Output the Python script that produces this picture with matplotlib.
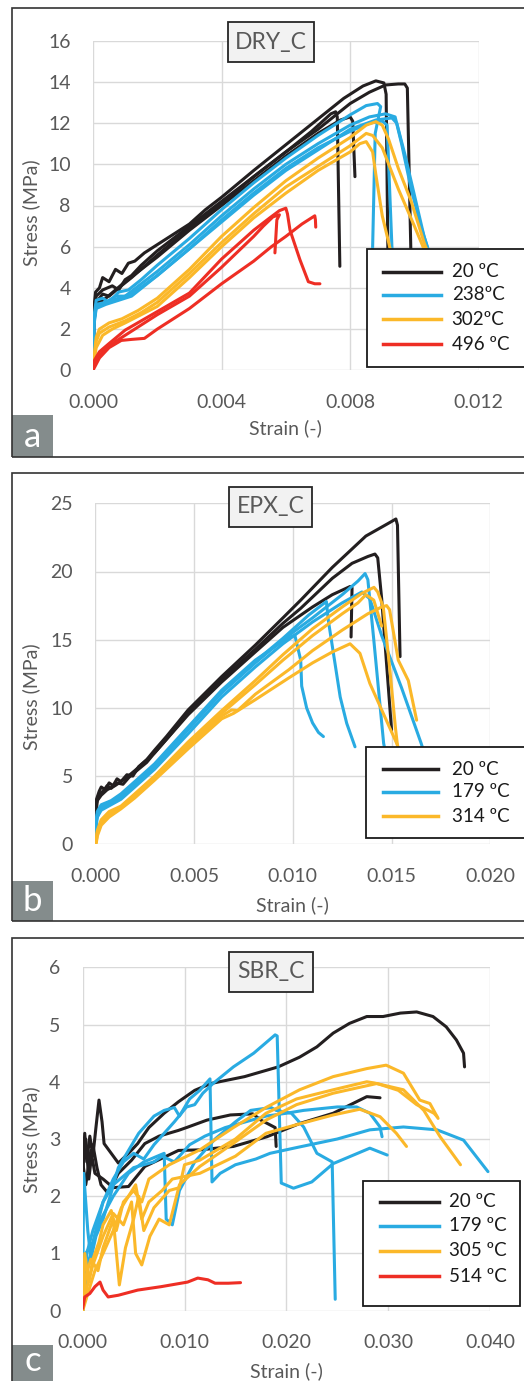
import matplotlib
matplotlib.use("Agg")
import matplotlib.pyplot as plt
from matplotlib.patches import Rectangle
from matplotlib.lines import Line2D

plt.rcParams['font.family'] = ['Lato', 'DejaVu Sans']

# ---------------- colours ----------------
C_BLACK = '#231f20'
C_BLUE = '#29abe2'
C_YELLOW = '#fbb829'
C_RED = '#ee2e24'
GRAY_TXT = '#595959'

# ================= (a) DRY_C =================
dry_20C = [
    ([0, 0.00002, 0.00008, 0.0002, 0.0003, 0.0005, 0.0007, 0.0009, 0.0011, 0.0013, 0.0016, 0.002,
      0.0025, 0.003, 0.0035, 0.004, 0.005, 0.006, 0.007, 0.0078, 0.0084, 0.0088, 0.00905, 0.00912, 0.00918],
     [0, 2.9, 3.8, 4.0, 4.5, 4.3, 4.9, 4.7, 5.2, 5.3, 5.7, 6.1,
      6.6, 7.1, 7.8, 8.4, 9.7, 10.95, 12.2, 13.2, 13.8, 14.05, 13.95, 13.4, 5.0]),
    ([0, 0.00003, 0.0001, 0.0003, 0.0006, 0.0008, 0.001, 0.0012, 0.0015, 0.002, 0.003, 0.004, 0.005,
      0.006, 0.007, 0.008, 0.0086, 0.0091, 0.0095, 0.0097, 0.00978, 0.0099],
     [0, 2.7, 3.6, 3.9, 4.1, 3.9, 4.4, 4.6, 5.1, 5.8, 7.0, 8.2, 9.4,
      10.6, 11.7, 12.95, 13.5, 13.85, 13.9, 13.9, 13.7, 5.0]),
    ([0, 0.00003, 0.0001, 0.0003, 0.0005, 0.0008, 0.0012, 0.002, 0.003, 0.004, 0.005, 0.006,
      0.0068, 0.0074, 0.00755, 0.0076, 0.00768],
     [0, 2.5, 3.3, 3.7, 3.6, 4.0, 4.5, 5.6, 6.9, 8.1, 9.4, 10.6,
      11.6, 12.45, 12.55, 12.3, 5.05]),
    ([0, 0.00003, 0.0001, 0.0004, 0.001, 0.002, 0.003, 0.004, 0.005, 0.006, 0.007, 0.0077,
      0.008, 0.00808, 0.00815],
     [0, 2.4, 3.2, 3.5, 4.3, 5.5, 6.8, 8.0, 9.2, 10.4, 11.5, 12.15,
      12.3, 12.1, 9.4]),
]
dry_238C = [
    ([0, 0.00003, 0.0001, 0.0003, 0.0005, 0.0008, 0.0011, 0.0015, 0.002, 0.003, 0.004, 0.005, 0.006,
      0.007, 0.008, 0.0085, 0.00885, 0.00895, 0.00878, 0.0087, 0.00868],
     [0, 2.6, 3.4, 3.5, 3.3, 3.8, 3.9, 4.4, 5.1, 6.4, 7.8, 9.1, 10.3,
      11.4, 12.4, 12.85, 12.95, 12.8, 11.5, 6.0, 5.0]),
    ([0, 0.00003, 0.0001, 0.0004, 0.0007, 0.001, 0.0015, 0.002, 0.003, 0.004, 0.005, 0.006, 0.007,
      0.008, 0.0086, 0.0091, 0.0094, 0.0096, 0.0099, 0.0102, 0.0105],
     [0, 2.4, 3.2, 3.3, 3.6, 3.6, 4.2, 4.8, 6.1, 7.5, 8.8, 10.0, 11.0,
      11.9, 12.3, 12.45, 12.3, 11.0, 8.8, 7.0, 5.5]),
    ([0, 0.00003, 0.0001, 0.0004, 0.0008, 0.0012, 0.002, 0.003, 0.004, 0.005, 0.006, 0.007, 0.008,
      0.0086, 0.009, 0.00915, 0.0093, 0.00935],
     [0, 2.2, 3.0, 3.2, 3.4, 3.6, 4.6, 5.9, 7.3, 8.6, 9.8, 10.8, 11.6,
      12.0, 12.1, 11.9, 6.0, 5.0]),
    ([0, 0.00003, 0.0001, 0.0004, 0.0008, 0.0012, 0.002, 0.003, 0.004, 0.005, 0.006, 0.007, 0.008,
      0.0088, 0.0093, 0.00945, 0.0097, 0.01, 0.0103, 0.0106],
     [0, 2.3, 3.1, 3.3, 3.5, 3.7, 4.6, 5.9, 7.2, 8.5, 9.7, 10.7, 11.7,
      12.15, 12.25, 12.0, 10.5, 8.5, 6.5, 5.0]),
]
dry_302C = [
    ([0, 0.00005, 0.0001, 0.0002, 0.0005, 0.0009, 0.0014, 0.002, 0.003, 0.004, 0.005, 0.006, 0.007,
      0.008, 0.0085, 0.0088, 0.009, 0.0092, 0.0095, 0.0099, 0.0103, 0.0106],
     [0, 0.9, 1.6, 2.0, 2.3, 2.5, 2.9, 3.5, 4.9, 6.5, 7.9, 9.2, 10.3,
      11.3, 11.9, 12.07, 11.9, 11.2, 9.8, 8.2, 6.2, 5.0]),
    ([0, 0.00005, 0.0001, 0.0002, 0.0005, 0.001, 0.0015, 0.002, 0.003, 0.004, 0.005, 0.006, 0.007,
      0.008, 0.0085, 0.0087, 0.009, 0.0095, 0.01, 0.0104],
     [0, 0.8, 1.4, 1.8, 2.1, 2.4, 2.8, 3.3, 4.7, 6.2, 7.6, 8.9, 9.9,
      10.9, 11.5, 11.4, 10.8, 8.8, 7.0, 5.5]),
    ([0, 0.00005, 0.0001, 0.0003, 0.0006, 0.001, 0.002, 0.003, 0.004, 0.005, 0.006, 0.007, 0.008,
      0.0083, 0.0085, 0.0087, 0.0088, 0.009, 0.0092, 0.0093],
     [0, 0.6, 1.1, 1.7, 2.0, 2.3, 3.1, 4.5, 6.0, 7.4, 8.6, 9.7, 10.6,
      11.0, 11.1, 10.6, 9.5, 7.5, 6.2, 5.5]),
]
dry_496C = [
    ([0, 0.00005, 0.0002, 0.0005, 0.001, 0.0015, 0.002, 0.003, 0.004, 0.005, 0.0055, 0.0058,
      0.006, 0.00605, 0.00613, 0.00644, 0.0067, 0.0069, 0.00706],
     [0, 0.5, 0.9, 1.3, 1.95, 2.4, 2.85, 3.75, 5.4, 6.8, 7.4, 7.75,
      7.87, 7.6, 6.8, 5.36, 4.3, 4.2, 4.2]),
    ([0, 0.00005, 0.0003, 0.0007, 0.0012, 0.002, 0.003, 0.004, 0.005, 0.0053, 0.0056, 0.0058,
      0.00572, 0.00566],
     [0, 0.4, 0.9, 1.4, 1.9, 2.7, 3.6, 5.0, 6.5, 7.0, 7.45, 7.55,
      7.3, 5.7]),
    ([0, 0.0002, 0.0005, 0.00088, 0.0012, 0.0016, 0.002, 0.003, 0.004, 0.005, 0.00555, 0.006,
      0.0065, 0.0069, 0.00692, 0.00693],
     [0, 0.6, 1.1, 1.45, 1.5, 1.55, 2.0, 3.0, 4.2, 5.3, 6.0, 6.5,
      7.1, 7.5, 7.3, 6.95]),
]

# ================= (b) EPX_C =================
epx_20C = [
    ([0, 0.00003, 0.00006, 0.0002, 0.0003, 0.0005, 0.0007, 0.0009, 0.0011, 0.0013, 0.0016, 0.0019,
      0.0022, 0.0026, 0.003, 0.0036, 0.0047, 0.0064, 0.0081, 0.0095, 0.0104, 0.012, 0.0137, 0.0148,
      0.01522, 0.0153, 0.01543],
     [0, 2.4, 3.3, 3.9, 4.2, 4.0, 4.5, 4.3, 4.8, 4.6, 5.1, 5.0,
      5.7, 6.2, 6.9, 7.9, 9.85, 12.3, 14.6, 16.6, 17.9, 20.3, 22.6, 23.5,
      23.85, 23.4, 13.76]),
    ([0, 0.00003, 0.00006, 0.0002, 0.0004, 0.0006, 0.0008, 0.0011, 0.0014, 0.0017, 0.0021, 0.0026,
      0.003, 0.0036, 0.0047, 0.0064, 0.0081, 0.0095, 0.0104, 0.012, 0.013, 0.0138, 0.01416, 0.0143,
      0.0145, 0.015],
     [0, 2.2, 3.0, 3.7, 3.9, 4.3, 4.1, 4.5, 4.4, 4.9, 5.4, 6.0,
      6.7, 7.7, 9.6, 12.1, 14.3, 16.2, 17.3, 19.5, 20.6, 21.1, 21.28, 21.0,
      18.0, 8.38]),
    ([0, 0.00003, 0.0001, 0.0003, 0.0006, 0.001, 0.0015, 0.002, 0.003, 0.0047, 0.0064, 0.0081,
      0.0095, 0.011, 0.012, 0.0129, 0.013, 0.01295],
     [0, 2.0, 3.2, 3.6, 4.0, 4.3, 4.8, 5.4, 6.7, 9.5, 11.9, 14.1,
      15.9, 17.4, 18.3, 18.9, 18.8, 15.2]),
]
epx_179C = [
    ([0, 0.00003, 0.00005, 0.0003, 0.0007, 0.0013, 0.002, 0.003, 0.0047, 0.0064, 0.0081, 0.0095,
      0.011, 0.0125, 0.0133, 0.01366, 0.0138, 0.0141, 0.0146, 0.0148],
     [0, 1.2, 1.8, 2.7, 3.0, 3.5, 4.4, 5.7, 8.4, 11.1, 13.3, 15.0,
      16.6, 18.3, 19.3, 19.85, 19.4, 15.0, 7.4, 6.0]),
    ([0, 0.00003, 0.0001, 0.0003, 0.0008, 0.0013, 0.002, 0.003, 0.0047, 0.0064, 0.0081, 0.0095,
      0.011, 0.0125, 0.0135, 0.0139, 0.0145, 0.0155, 0.0165, 0.0168],
     [0, 1.0, 2.0, 2.5, 2.9, 3.3, 4.2, 5.5, 8.1, 10.8, 13.0, 14.7,
      16.3, 17.7, 18.5, 18.0, 15.3, 11.5, 7.4, 6.0]),
    ([0, 0.00003, 0.0001, 0.0003, 0.0008, 0.0013, 0.002, 0.003, 0.0047, 0.0064, 0.0081, 0.0095,
      0.0108, 0.0117, 0.0118, 0.0124, 0.01273, 0.01315],
     [0, 1.4, 2.2, 2.8, 3.1, 3.6, 4.5, 5.8, 8.5, 11.2, 13.4, 15.1,
      16.8, 17.8, 16.4, 10.8, 8.87, 7.15]),
    ([0, 0.00003, 0.0001, 0.0003, 0.0008, 0.0013, 0.002, 0.003, 0.0047, 0.0064, 0.0081, 0.0095,
      0.0101, 0.0104, 0.01045, 0.0107, 0.011, 0.0113, 0.01155],
     [0, 1.6, 2.4, 2.9, 3.2, 3.7, 4.6, 5.9, 8.6, 11.3, 13.5, 14.9,
      15.35, 13.5, 11.6, 10.0, 8.9, 8.2, 7.9]),
]
epx_314C = [
    ([0, 0.00005, 0.0001, 0.0003, 0.0007, 0.0013, 0.002, 0.003, 0.0047, 0.0064, 0.0081, 0.0095,
      0.011, 0.0125, 0.0135, 0.01411, 0.0143, 0.01458, 0.0149, 0.0152, 0.0154],
     [0, 0.3, 1.0, 1.8, 2.4, 2.8, 3.7, 5.0, 7.5, 9.8, 12.0, 13.9,
      15.8, 17.4, 18.4, 18.84, 18.5, 17.4, 13.0, 8.5, 6.0]),
    ([0, 0.00005, 0.0001, 0.0003, 0.0007, 0.0013, 0.002, 0.003, 0.0047, 0.0064, 0.0081, 0.0095,
      0.011, 0.0125, 0.0133, 0.0137, 0.0141, 0.0145],
     [0, 0.25, 0.9, 1.7, 2.3, 2.7, 3.6, 4.9, 7.3, 9.6, 11.7, 13.5,
      15.3, 16.9, 17.7, 18.3, 17.9, 16.0]),
    ([0, 0.00005, 0.0001, 0.0003, 0.0007, 0.0013, 0.002, 0.003, 0.0047, 0.0064, 0.0069, 0.0072,
      0.0081, 0.0098, 0.011, 0.0125, 0.0138, 0.0145, 0.01475, 0.0149, 0.01534, 0.01585, 0.01627],
     [0, 0.2, 0.8, 1.6, 2.2, 2.7, 3.5, 4.8, 7.2, 9.4, 9.85, 9.8,
      11.0, 12.8, 14.2, 15.7, 16.9, 17.4, 17.5, 17.2, 13.5, 12.0, 9.1]),
    ([0, 0.00005, 0.0001, 0.0003, 0.0007, 0.0013, 0.002, 0.003, 0.0047, 0.0064, 0.007, 0.0081,
      0.0098, 0.011, 0.012, 0.0129, 0.0134, 0.0139, 0.01458, 0.01526, 0.0155],
     [0, 0.1, 0.6, 1.4, 2.0, 2.6, 3.4, 4.7, 7.0, 9.2, 9.6, 10.6,
      12.2, 13.3, 14.1, 14.7, 14.0, 11.8, 9.6, 7.4, 6.5]),
]

# ================= (c) SBR_C =================
sbr_20C = [
    ([0, 0.0002, 0.0004, 0.0007, 0.001, 0.0013, 0.0016, 0.0019, 0.0021, 0.0028, 0.0035, 0.0045,
      0.0054, 0.0065, 0.008, 0.0094, 0.011, 0.0126, 0.0159, 0.0192, 0.0213, 0.023, 0.0246, 0.0262,
      0.0279, 0.0295, 0.0312, 0.0328, 0.0344, 0.0357, 0.0367, 0.0374, 0.0375],
     [2.4, 3.1, 2.6, 3.05, 2.7, 3.2, 3.68, 3.3, 2.92, 2.75, 2.58, 2.75,
      2.92, 3.2, 3.45, 3.65, 3.85, 3.97, 4.09, 4.26, 4.43, 4.61, 4.85, 5.02,
      5.14, 5.14, 5.2, 5.22, 5.14, 4.96, 4.73, 4.5, 4.26]),
    ([0, 0.0003, 0.0006, 0.001, 0.0014, 0.0018, 0.0025, 0.0035, 0.0048, 0.0061, 0.0075, 0.0094,
      0.0102, 0.0122, 0.0145, 0.0167, 0.0175, 0.0189, 0.019],
     [2.5, 3.0, 2.3, 2.9, 2.5, 2.2, 2.05, 2.4, 2.63, 2.92, 3.05, 3.15,
      3.2, 3.33, 3.42, 3.44, 3.33, 3.2, 2.87]),
    ([0, 0.0003, 0.0008, 0.0012, 0.002, 0.003, 0.0045, 0.0061, 0.0094, 0.0115, 0.0148, 0.0181,
      0.0213, 0.0246, 0.0279, 0.0292],
     [2.6, 2.2, 2.8, 2.4, 2.3, 2.15, 2.17, 2.52, 2.8, 2.81, 2.87, 3.04,
      3.27, 3.45, 3.74, 3.72]),
]
sbr_179C = [
    ([0, 0.0001, 0.0005, 0.0008, 0.0013, 0.002, 0.0027, 0.0035, 0.0045, 0.0055, 0.007, 0.008,
      0.009, 0.0095, 0.0105, 0.0115, 0.0125, 0.0127, 0.0135, 0.015, 0.017, 0.0184, 0.021, 0.025,
      0.0282, 0.0315, 0.0348, 0.0374, 0.0398],
     [0.3, 2.4, 1.4, 0.9, 1.3, 1.6, 2.0, 2.5, 2.8, 3.1, 3.4, 3.5,
      3.55, 3.4, 3.7, 3.85, 4.05, 2.25, 2.4, 2.55, 2.65, 2.75, 2.85, 3.0,
      3.16, 3.21, 3.16, 2.98, 2.43]),
    ([0, 0.0003, 0.001, 0.002, 0.003, 0.004, 0.005, 0.006, 0.007, 0.008, 0.009, 0.0102,
      0.011, 0.0118, 0.0128, 0.0148, 0.0168, 0.0189, 0.0191, 0.0195, 0.0207, 0.0225, 0.0246,
      0.0282, 0.0299],
     [0, 1.0, 1.2, 1.9, 2.3, 2.6, 2.75, 2.65, 2.9, 3.1, 3.3, 3.56,
      3.6, 3.8, 3.97, 4.26, 4.5, 4.82, 4.8, 2.23, 2.14, 2.25, 2.57,
      2.84, 2.72]),
    ([0, 0.0005, 0.0015, 0.003, 0.0045, 0.006, 0.008, 0.0082, 0.0088, 0.0095, 0.011, 0.013,
      0.015, 0.0165, 0.0185, 0.019, 0.0205, 0.0217, 0.023, 0.0245, 0.0248],
     [0, 0.8, 1.5, 2.0, 2.4, 2.6, 2.75, 1.6, 1.5, 2.1, 2.6, 3.0,
      3.3, 3.5, 3.55, 3.5, 3.45, 3.21, 2.75, 2.6, 0.2]),
    ([0, 0.0004, 0.001, 0.002, 0.003, 0.005, 0.007, 0.0078, 0.009, 0.0105, 0.012, 0.014,
      0.016, 0.018, 0.02, 0.0217, 0.025, 0.0269, 0.0282, 0.0292, 0.0294],
     [0, 1.0, 1.4, 1.9, 2.2, 2.5, 2.6, 2.7, 2.6, 2.9, 3.05, 3.2,
      3.3, 3.4, 3.45, 3.5, 3.56, 3.56, 3.45, 3.21, 3.04]),
]
sbr_305C = [
    ([0, 0.0002, 0.0006, 0.001, 0.0016, 0.002, 0.0028, 0.0033, 0.004, 0.005, 0.0058, 0.0065,
      0.0085, 0.0115, 0.0148, 0.0181, 0.0213, 0.0246, 0.0279, 0.0298, 0.0315, 0.0331, 0.0341, 0.0349],
     [0, 1.0, 0.5, 0.9, 1.2, 1.5, 1.75, 1.4, 1.9, 2.1, 1.9, 2.3,
      2.55, 2.81, 3.2, 3.56, 3.86, 4.09, 4.23, 4.29, 4.15, 3.68, 3.62, 3.36]),
    ([0, 0.0003, 0.0008, 0.0015, 0.002, 0.003, 0.0036, 0.0042, 0.005, 0.0055, 0.006, 0.007,
      0.0085, 0.0095, 0.01, 0.0115, 0.015, 0.018, 0.021, 0.0246, 0.0279, 0.0286, 0.0315, 0.0335,
      0.0351, 0.0371],
     [0, 0.6, 0.9, 0.7, 1.1, 1.6, 0.45, 1.1, 1.6, 2.0, 1.4, 1.8,
      2.1, 2.15, 2.55, 2.63, 3.0, 3.45, 3.7, 3.86, 4.0, 3.98, 3.86, 3.5,
      3.04, 2.55]),
    ([0, 0.0004, 0.001, 0.002, 0.003, 0.004, 0.0048, 0.0052, 0.0058, 0.0066, 0.0075, 0.0085,
      0.0095, 0.0115, 0.015, 0.018, 0.021, 0.0246, 0.0289, 0.031, 0.0328, 0.0345, 0.0348],
     [0, 0.4, 0.8, 1.3, 1.7, 1.5, 1.9, 1.0, 0.8, 1.3, 1.6, 1.5,
      2.2, 2.52, 2.95, 3.33, 3.6, 3.8, 3.97, 3.85, 3.6, 3.45, 3.39]),
    ([0, 0.0005, 0.0012, 0.002, 0.003, 0.0038, 0.0045, 0.0052, 0.0058, 0.0065, 0.0078, 0.0088,
      0.0115, 0.015, 0.018, 0.021, 0.0246, 0.0272, 0.0292, 0.0308, 0.0318],
     [0, 0.3, 0.7, 1.0, 1.4, 1.8, 2.0, 2.2, 1.6, 1.9, 2.1, 2.3,
      2.4, 2.7, 3.1, 3.25, 3.42, 3.52, 3.39, 3.1, 2.87]),
]
sbr_514C = [
    ([0, 0.0002, 0.0007, 0.0012, 0.0017, 0.002, 0.0025, 0.0035, 0.0054, 0.0077, 0.0103, 0.0113,
      0.0123, 0.013, 0.0143, 0.0155],
     [0.04, 0.24, 0.3, 0.42, 0.5, 0.36, 0.24, 0.27, 0.36, 0.42, 0.5, 0.57,
      0.54, 0.48, 0.48, 0.49]),
]

# ---------------- panel settings ----------------
W, H = 524, 1381
fig = plt.figure(figsize=(W / 100, H / 100), dpi=100)


def fx(px):
    return px / W


def fy(py):
    return 1 - py / H


panels = [
    dict(rect=(93, 40.7, 478.7, 370.3), xlim=(0, 0.012), xticks=[0, 0.004, 0.008, 0.012],
         ylim=(0, 16), yticks=[0, 2, 4, 6, 8, 10, 12, 14, 16],
         groups=[(dry_20C, C_BLACK), (dry_238C, C_BLUE), (dry_302C, C_YELLOW), (dry_496C, C_RED)],
         labels=['20 ºC', '238ºC', '302ºC', '496 ºC'],
         title='DRY_C', title_box=(228, 22, 314, 62),
         leg_box=(366.7, 248.7, 540, 366.7), leg_line=(383, 440.7), leg_text=451.7,
         leg_rows=[271.7, 295, 319.3, 344],
         frame=(12, 8, 540, 456.7), tag='a', tag_box=(12, 415, 52.7, 456.7),
         xlabel_y=428, ylabel_y=213),
    dict(rect=(95.3, 503.3, 490.3, 844.3), xlim=(0, 0.020), xticks=[0, 0.005, 0.010, 0.015, 0.020],
         ylim=(0, 25), yticks=[0, 5, 10, 15, 20, 25],
         groups=[(epx_20C, C_BLACK), (epx_179C, C_BLUE), (epx_314C, C_YELLOW)],
         labels=['20 ºC', '179 ºC', '314 ºC'],
         title='EPX_C', title_box=(229, 486.7, 312, 526.7),
         leg_box=(365.7, 746.7, 540, 838.3), leg_line=(382.7, 437.7), leg_text=451.7,
         leg_rows=[769.3, 791.7, 816],
         frame=(12, 472.7, 540, 921), tag='b', tag_box=(12, 880.7, 52.7, 921),
         xlabel_y=905, ylabel_y=697),
    dict(rect=(82.7, 967.3, 490, 1310.7), xlim=(0, 0.040), xticks=[0, 0.010, 0.020, 0.030, 0.040],
         ylim=(0, 6), yticks=[0, 1, 2, 3, 4, 5, 6],
         groups=[(sbr_20C, C_BLACK), (sbr_179C, C_BLUE), (sbr_305C, C_YELLOW), (sbr_514C, C_RED)],
         labels=['20 ºC', '179 ºC', '305 ºC', '514 ºC'],
         title='SBR_C', title_box=(229, 951.7, 313, 991.7),
         leg_box=(363.3, 1181, 520, 1306), leg_line=(380, 439.3), leg_text=449.3,
         leg_rows=[1201.7, 1225.7, 1251, 1276],
         frame=(12, 938.3, 540, 1400), tag='c', tag_box=(12, 1345, 52.7, 1400),
         xlabel_y=1371, ylabel_y=1140),
]

for p in panels:
    l, t, r, b = p['rect']
    ax = fig.add_axes([fx(l), fy(b), (r - l) / W, (b - t) / H])
    for curves, col in p['groups']:
        for strain, stress in curves:
            ax.plot(strain, stress, color=col, lw=2.2, solid_joinstyle='round',
                    solid_capstyle='round', clip_on=True)
    ax.set_xlim(*p['xlim'])
    ax.set_ylim(*p['ylim'])
    ax.set_xticks(p['xticks'])
    ax.set_xticklabels([f'{v:.3f}' for v in p['xticks']])
    ax.set_yticks(p['yticks'])
    ax.set_yticklabels([str(v) for v in p['yticks']])
    ax.tick_params(length=0, labelsize=14, labelcolor=GRAY_TXT)
    ax.tick_params(axis='x', pad=17)
    ax.tick_params(axis='y', pad=16)
    ax.grid(True, color='#d9d9d9', lw=1.0)
    ax.set_axisbelow(True)
    for s in ax.spines.values():
        s.set_visible(False)

    cx = (l + r) / 2
    fig.text(fx(cx), fy(p['xlabel_y']), 'Strain (-)', ha='center', va='center',
             fontsize=14, color=GRAY_TXT)
    fig.text(fx(31.7), fy(p['ylabel_y']), 'Stress (MPa)', ha='center', va='center',
             rotation=90, fontsize=14, color=GRAY_TXT)

    # title box
    x0, y0, x1, y1 = p['title_box']
    fig.add_artist(Rectangle((fx(x0), fy(y1)), (x1 - x0) / W, (y1 - y0) / H,
                             transform=fig.transFigure, facecolor='#f2f2f2',
                             edgecolor='#262626', lw=1.3, zorder=5))
    fig.text(fx((x0 + x1) / 2), fy((y0 + y1) / 2), p['title'], ha='center', va='center',
             fontsize=16.5, color=GRAY_TXT, zorder=6)

    # legend
    x0, y0, x1, y1 = p['leg_box']
    fig.add_artist(Rectangle((fx(x0), fy(y1)), (x1 - x0) / W, (y1 - y0) / H,
                             transform=fig.transFigure, facecolor='white',
                             edgecolor='#1a1a1a', lw=1.3, zorder=5))
    la, lb = p['leg_line']
    for (curves, col), lab, ry in zip(p['groups'], p['labels'], p['leg_rows']):
        fig.add_artist(Line2D([fx(la), fx(lb)], [fy(ry), fy(ry)], transform=fig.transFigure,
                              color=col, lw=2.5, zorder=6))
        fig.text(fx(p['leg_text']), fy(ry), lab, ha='left', va='center',
                 fontsize=13.5, color='#1a1a1a', zorder=6)

    # outer frame and panel tag
    x0, y0, x1, y1 = p['frame']
    fig.add_artist(Rectangle((fx(x0), fy(y1)), (x1 - x0) / W, (y1 - y0) / H,
                             transform=fig.transFigure, facecolor='none',
                             edgecolor='#333333', lw=1.2, zorder=7))
    x0, y0, x1, y1 = p['tag_box']
    fig.add_artist(Rectangle((fx(x0), fy(y1)), (x1 - x0) / W, (y1 - y0) / H,
                             transform=fig.transFigure, facecolor='#848c8c',
                             edgecolor='none', zorder=6))
    fig.text(fx((x0 + x1) / 2), fy(min(y1, 1381) - 20), p['tag'], ha='center', va='center',
             fontsize=25, color='white', zorder=7)

fig.savefig('out.png', dpi=100)
